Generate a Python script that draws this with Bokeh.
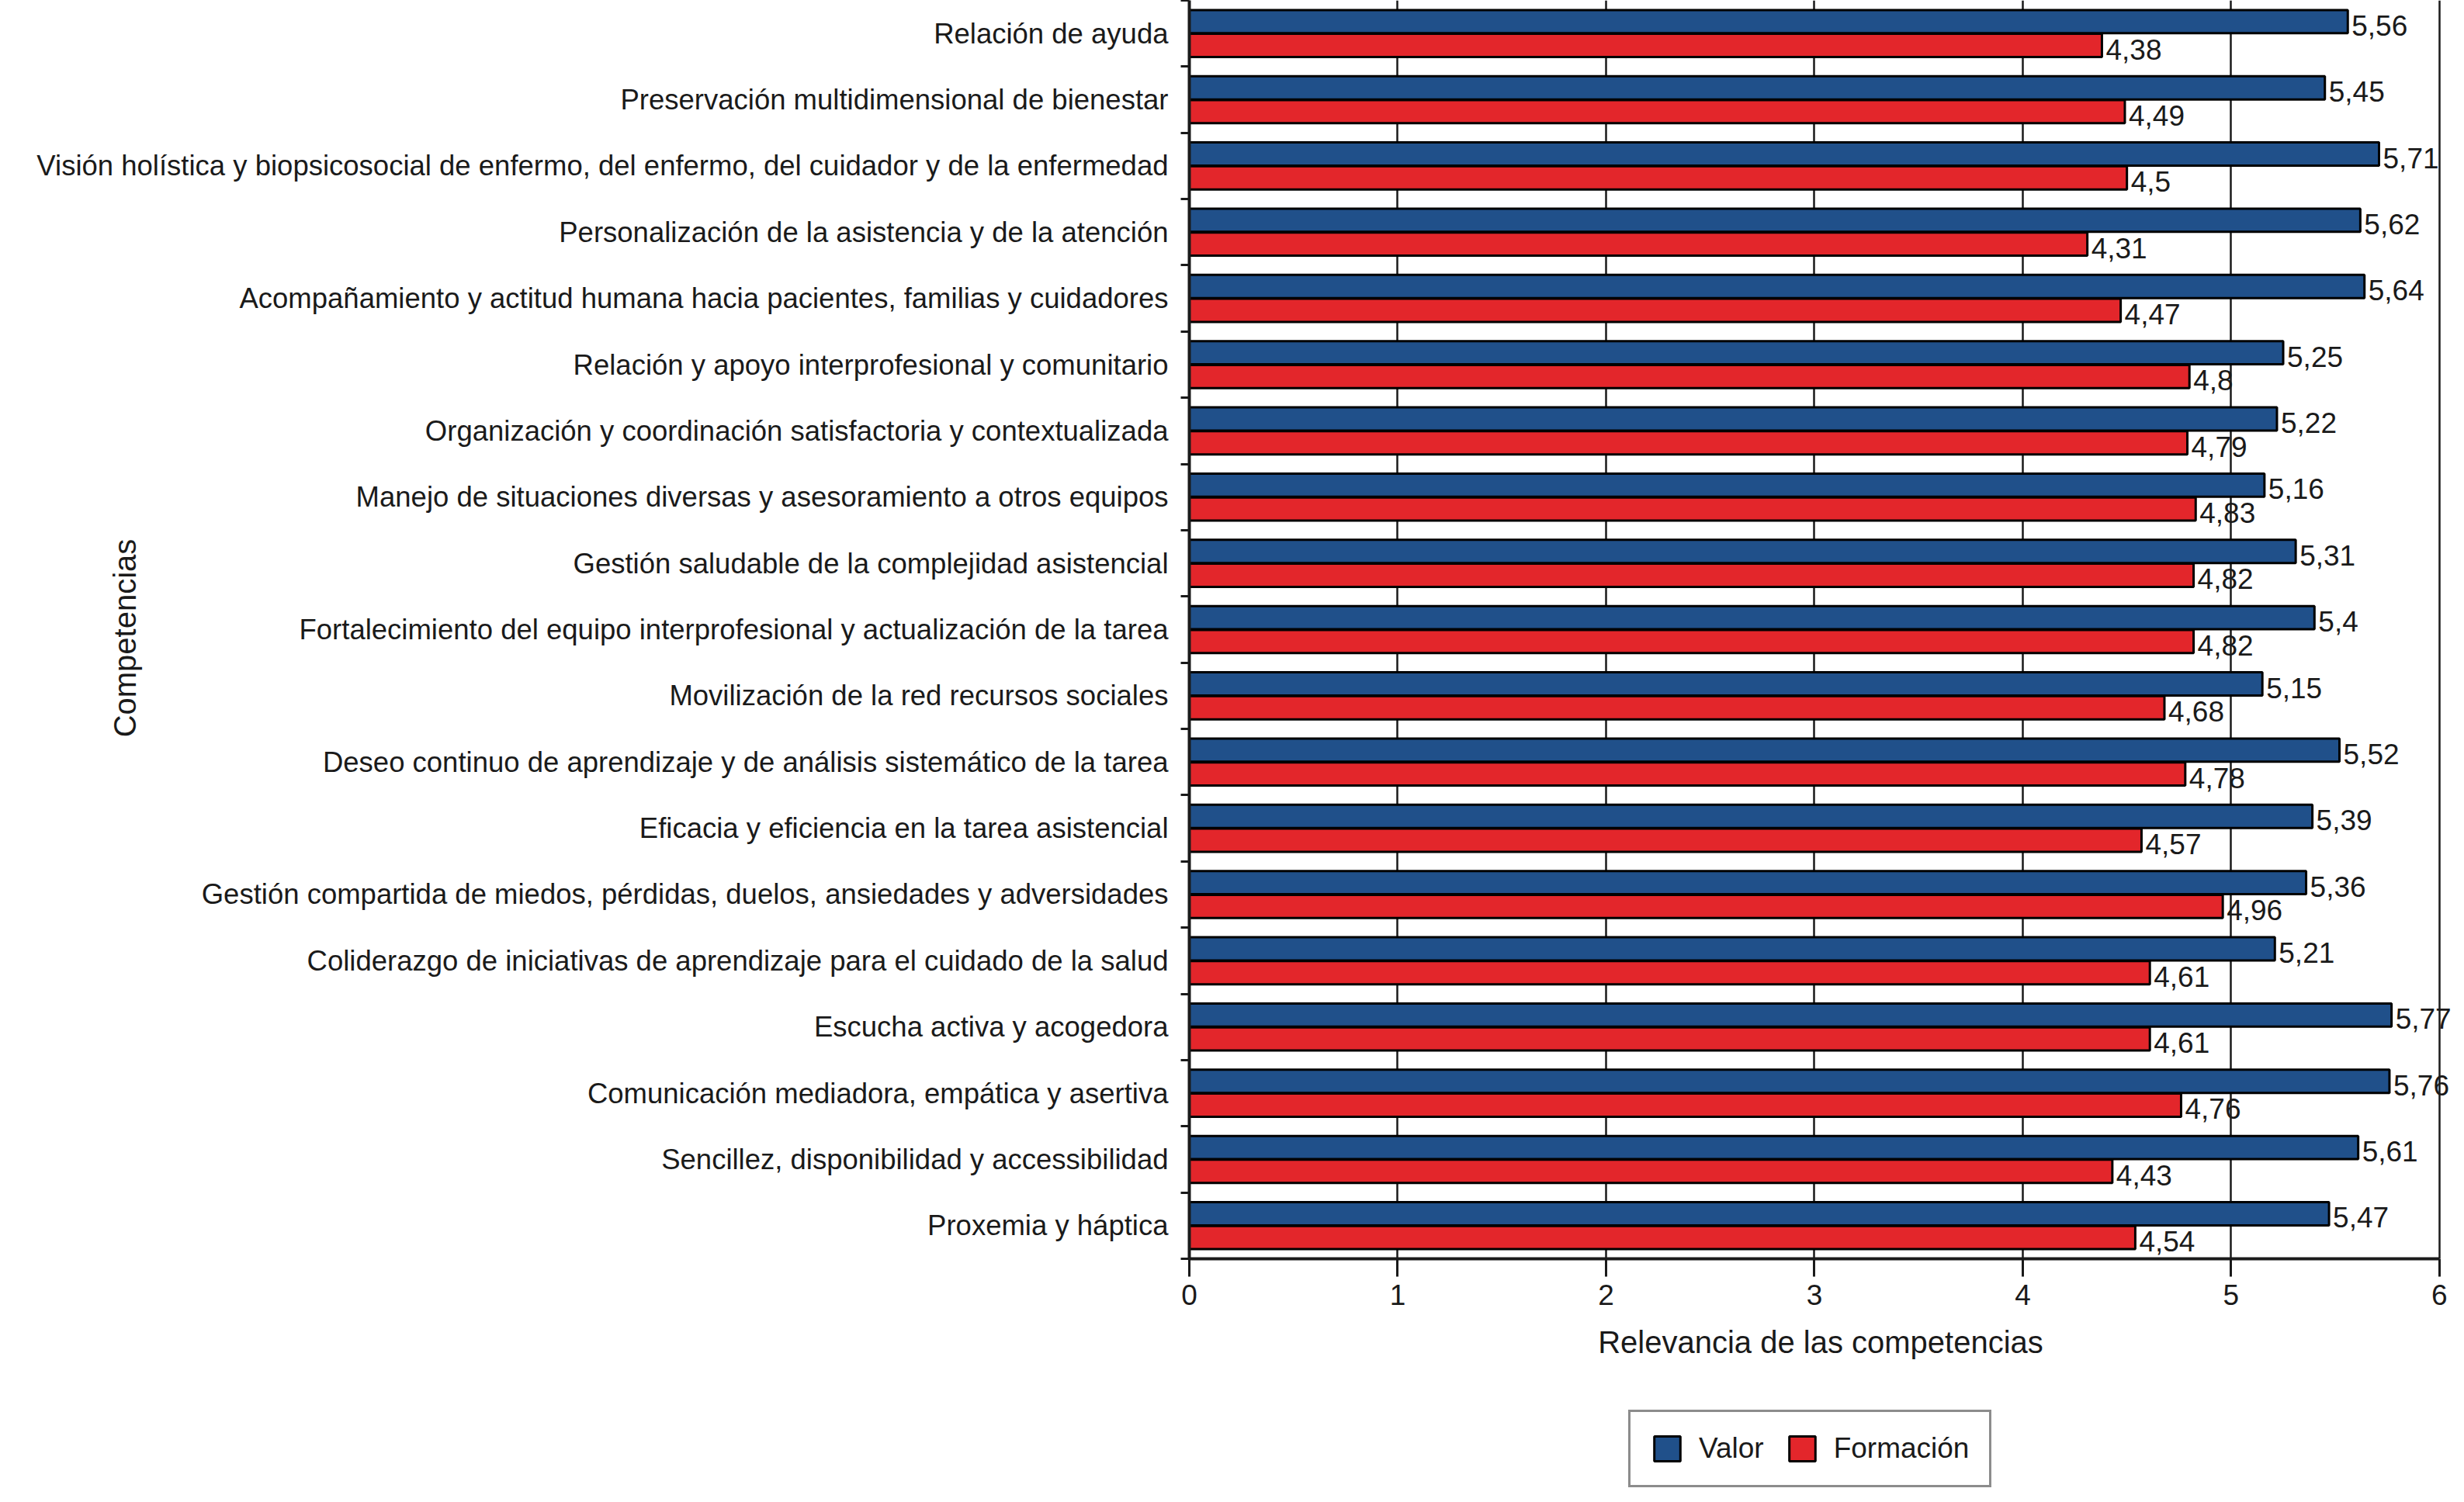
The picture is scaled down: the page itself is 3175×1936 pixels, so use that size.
import math
from bokeh.plotting import figure
from bokeh.layouts import column
from bokeh.models import (Range1d, FixedTicker, Legend, LegendItem, Label,
                          ColumnDataSource)
from bokeh.transform import dodge
from bokeh.core.properties import value
from bokeh.embed import file_html
from bokeh.resources import INLINE

categories = [
    "Relación de ayuda",
    "Preservación multidimensional de bienestar",
    "Visión holística y biopsicosocial de enfermo, del enfermo, del cuidador y de la enfermedad",
    "Personalización de la asistencia y de la atención",
    "Acompañamiento y actitud humana hacia pacientes, familias y cuidadores",
    "Relación y apoyo interprofesional y comunitario",
    "Organización y coordinación satisfactoria y contextualizada",
    "Manejo de situaciones diversas y asesoramiento a otros equipos",
    "Gestión saludable de la complejidad asistencial",
    "Fortalecimiento del equipo interprofesional y actualización de la tarea",
    "Movilización de la red recursos sociales",
    "Deseo continuo de aprendizaje y de análisis sistemático de la tarea",
    "Eficacia y eficiencia en la tarea asistencial",
    "Gestión compartida de miedos, pérdidas, duelos, ansiedades y adversidades",
    "Coliderazgo de iniciativas de aprendizaje para el cuidado de la salud",
    "Escucha activa y acogedora",
    "Comunicación mediadora, empática y asertiva",
    "Sencillez, disponibilidad y accessibilidad",
    "Proxemia y háptica",
]
valor = [5.56, 5.45, 5.71, 5.62, 5.64, 5.25, 5.22, 5.16, 5.31, 5.4,
         5.15, 5.52, 5.39, 5.36, 5.21, 5.77, 5.76, 5.61, 5.47]
formacion = [4.38, 4.49, 4.5, 4.31, 4.47, 4.8, 4.79, 4.83, 4.82, 4.82,
             4.68, 4.78, 4.57, 4.96, 4.61, 4.61, 4.76, 4.43, 4.54]
series_names = ["Valor", "Formación"]
x_ticks = [0, 1, 2, 3, 4, 5, 6]
x_title = "Relevancia de las competencias"
y_title = "Competencias"

FONT = "Liberation Sans"
BLUE = "#20508A"
RED = "#E3262B"
INK = "#1a1a1a"
W = 3159
H_MAIN = 1754
H_LEG = 1920 - H_MAIN

n = len(categories)
pos = list(range(n))


def fmt(v):
    return f"{v:g}".replace(".", ",")


src = ColumnDataSource(dict(
    y=pos, valor=valor, formacion=formacion,
    lv=[fmt(v) for v in valor], lf=[fmt(v) for v in formacion],
))

p = figure(width=W, height=H_MAIN,
           x_range=Range1d(x_ticks[0], 6.06),
           y_range=Range1d(n - 0.5, -0.5),
           output_backend="svg", toolbar_location=None,
           min_border_top=0, min_border_left=0, min_border_right=0,
           min_border_bottom=0)
p.outline_line_color = None
p.background_fill_color = "white"
p.border_fill_color = "white"

# x axis
xa = p.xaxis[0]
xa.ticker = FixedTicker(ticks=x_ticks)
xa.bounds = (x_ticks[0], x_ticks[-1])
xa.axis_line_width = 4
xa.axis_line_color = INK
xa.major_tick_out = 23
xa.major_tick_in = 0
xa.major_tick_line_width = 3
xa.major_tick_line_color = INK
xa.minor_tick_line_color = None
xa.major_label_text_font = FONT
xa.major_label_text_font_size = "37px"
xa.major_label_text_color = INK
xa.major_label_standoff = 10
xa.axis_label = x_title
xa.axis_label_text_font = FONT
xa.axis_label_text_font_size = "40px"
xa.axis_label_text_font_style = "normal"
xa.axis_label_text_color = INK
xa.axis_label_standoff = 23

p.xgrid.grid_line_color = INK
p.xgrid.grid_line_width = 2.5
p.ygrid.visible = False

# y axis
ya = p.yaxis[0]
ya.ticker = FixedTicker(ticks=pos, minor_ticks=[i - 0.5 for i in range(n + 1)])
ya.major_label_overrides = {i: c for i, c in enumerate(categories)}
ya.axis_line_width = 4
ya.axis_line_color = INK
ya.major_tick_out = 0
ya.major_tick_in = 0
ya.minor_tick_out = 11
ya.minor_tick_in = 0
ya.minor_tick_line_width = 3
ya.minor_tick_line_color = INK
ya.major_label_text_font = FONT
ya.major_label_text_font_size = "36.5px"
ya.major_label_text_color = INK
ya.major_label_standoff = 16

bar_style = dict(height=0.35, line_color="black", line_width=3)
rv = p.hbar(y=dodge("y", -0.18), left=0, right="valor", source=src,
            fill_color=BLUE, **bar_style)
rf = p.hbar(y=dodge("y", 0.18), left=0, right="formacion", source=src,
            fill_color=RED, **bar_style)

for col, lab, off in (("valor", "lv", -0.18), ("formacion", "lf", 0.18)):
    p.text(x=col, y=dodge("y", off), text=lab, source=src,
           text_font=value(FONT), text_font_size="37px", text_color=INK,
           text_baseline="middle", text_align="left", x_offset=5, y_offset=5)

p.add_layout(Label(x=160, y=800, x_units="screen", y_units="screen",
                   text=y_title, angle=math.pi / 2,
                   text_align="center", text_baseline="middle",
                   text_font=FONT, text_font_size="40px", text_color=INK), "left")

# legend strip below the chart (its frame is aligned with the chart's frame);
# its two legend renderers share the bar data but are not drawn
pl = figure(width=W, height=H_LEG, x_range=Range1d(0, 1), y_range=Range1d(0, 1),
            output_backend="svg", toolbar_location=None,
            x_axis_location=None, y_axis_location=None,
            min_border_top=0, min_border_bottom=0,
            min_border_left=0, min_border_right=0)
pl.outline_line_color = None
pl.grid.visible = False
pl.background_fill_color = "white"
pl.border_fill_color = "white"
lv_r = pl.hbar(y="y", left=0, right="valor", source=src, fill_color=BLUE,
               visible=False, **bar_style)
lf_r = pl.hbar(y="y", left=0, right="formacion", source=src, fill_color=RED,
               visible=False, **bar_style)

legend = Legend(items=[LegendItem(label=series_names[0], renderers=[lv_r]),
                       LegendItem(label=series_names[1], renderers=[lf_r])],
                location=(566, 3), orientation="horizontal",
                label_text_font=FONT, label_text_font_size="37px", label_text_color=INK,
                glyph_width=42, glyph_height=40, label_height=40, label_standoff=20,
                spacing=28, padding=26, margin=0,
                border_line_color=INK, border_line_width=3,
                background_fill_color="white", background_fill_alpha=1.0,
                inactive_fill_alpha=0.0)
pl.add_layout(legend, "center")

layout = column(p, pl, spacing=0)
open("out.html", "w").write(file_html(layout, INLINE))
